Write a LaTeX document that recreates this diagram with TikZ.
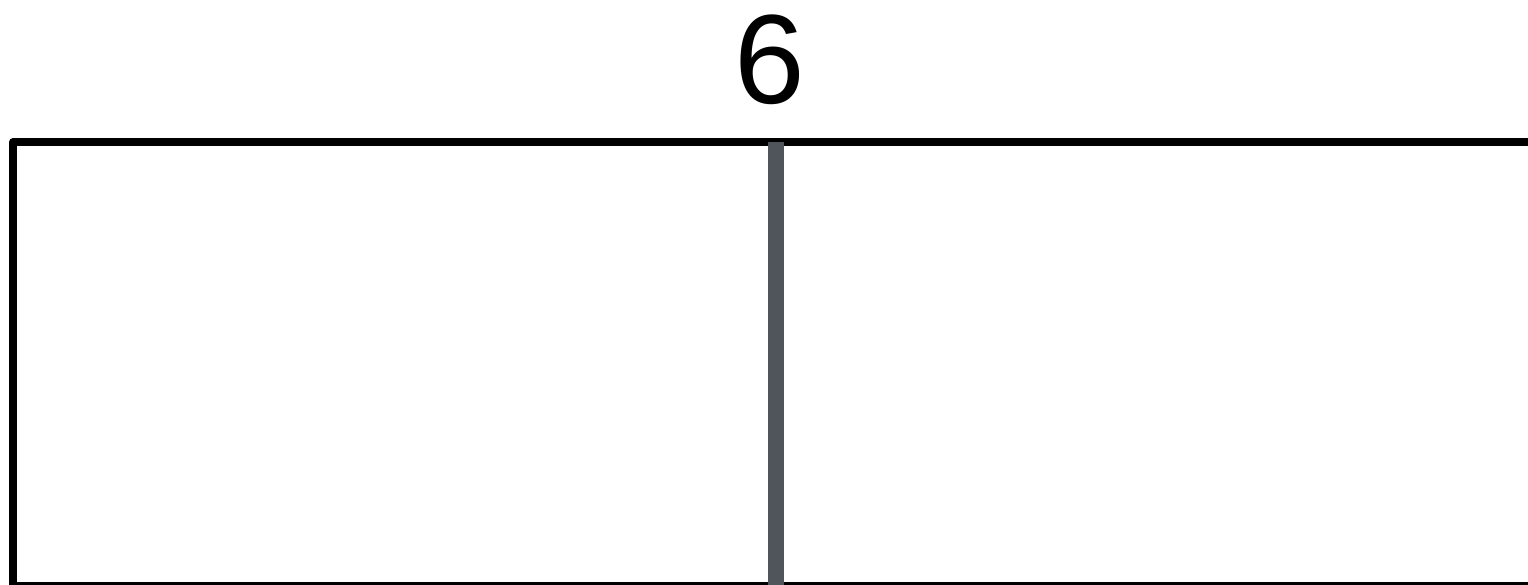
\documentclass[tikz,border=0pt]{standalone}
\usepackage{fontspec}
\setmainfont{Liberation Sans}
\definecolor{divider}{HTML}{50555C}
\begin{document}
\begin{tikzpicture}[x=1pt,y=-1pt,
  frame/.style={draw=black,line width=8pt,line join=round},
  divline/.style={draw=divider,line width=16pt},
  label/.style={font=\fontsize{127}{127}\selectfont,inner sep=0pt,anchor=base}]
\useasboundingbox[fill=white] (0,0) rectangle (1528,585);
\coordinate (tl) at (13,142);
\coordinate (bl) at (13,586);
\coordinate (br) at (1545,586);
\coordinate (tr) at (1545,142);
\path[frame] (br) -- (bl) -- (tl) -- (tr);
\coordinate (dtop) at (775.5,142);
\coordinate (dbot) at (775.5,595);
\path[divline] (dtop) -- (dbot);
\node[label] (n6) at (770,104) {6};
\end{tikzpicture}
\end{document}
